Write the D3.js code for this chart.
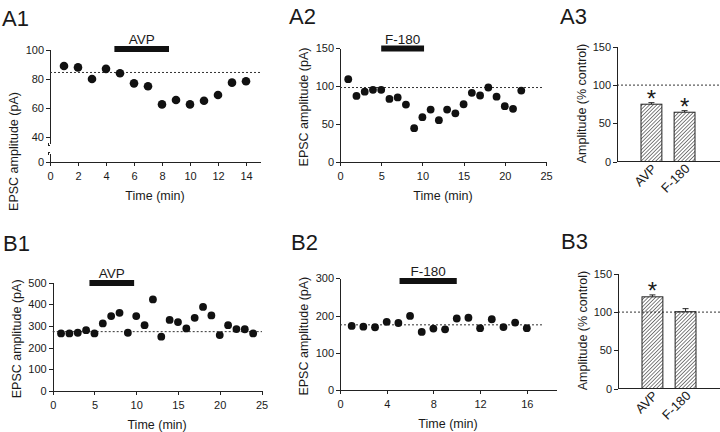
<!DOCTYPE html>
<html>
<head>
<meta charset="utf-8">
<script src="https://cdn.jsdelivr.net/npm/d3@7"></script>
<style>
  body { margin: 0; background: #fff; }
  svg { display: block; font-family: "Liberation Sans", Arial, sans-serif; }
  .axis path, .axis line { stroke: #222; stroke-width: 1; shape-rendering: crispEdges; }
  .axis text { fill: #1a1a1a; font-size: 11px; }
  .title { fill: #1a1a1a; font-size: 12.5px; }
  .panel { fill: #1a1a1a; font-size: 22px; }
</style>
</head>
<body>
<div id="chart"></div>
<script>
const width = 720,
  height = 432;

// A1: AVP, EPSC amplitude (pA) vs time (min)
const a1Time = [1, 2, 3, 4, 5, 6, 7, 8, 9, 10, 11, 12, 13, 14];
const a1Amp = [89, 88, 80, 87, 84, 77, 75, 62.5, 65.5, 62.5, 65, 69, 77.5, 78.5];
const a1Base = 84.5;
const a1Drug = [4.6, 8.5];
const a1XTicks = [0, 2, 4, 6, 8, 10, 12, 14];
const a1YTicks = [0, 40, 60, 80, 100];

// A2: F-180
const a2Time = [1, 2, 3, 4, 5, 6, 7, 8, 9, 10, 11, 12, 13, 14, 15, 16, 17, 18, 19, 20, 21, 22];
const a2Amp = [109, 87, 92.5, 95, 95, 83, 85, 75.5, 44.5, 59, 69, 55, 69, 64, 76, 91, 87.5, 98, 86, 73.5, 70, 94];
const a2Base = 98;
const a2Drug = [5, 10.2];
const a2XTicks = [0, 5, 10, 15, 20, 25];
const a2YTicks = [0, 50, 100, 150];

// A3: % control
const a3Cats = ["AVP", "F-180"];
const a3Vals = [75, 64.5];
const a3Err = [2, 2];
const a3Star = [true, true];

// B1: AVP
const b1Time = [1, 2, 3, 4, 5, 6, 7, 8, 9, 10, 11, 12, 13, 14, 15, 16, 17, 18, 19, 20, 21, 22, 23, 24];
const b1Amp = [266, 266, 269, 281, 266, 312, 346, 361, 269, 346, 304, 423, 251, 328, 318, 289, 338, 388, 349, 258, 304, 286, 285, 266];
const b1Base = 274;
const b1Drug = [4.4, 9.75];
const b1XTicks = [0, 5, 10, 15, 20, 25];
const b1YTicks = [0, 100, 200, 300, 400, 500];

// B2: F-180
const b2Time = [1, 2, 3, 4, 5, 6, 7, 8, 9, 10, 11, 12, 13, 14, 15, 16];
const b2Amp = [172, 170, 168.5, 183, 180, 199, 156, 165, 163, 192, 194, 166, 190, 169, 181, 166];
const b2Base = 175;
const b2Drug = [5.1, 10];
const b2XTicks = [0, 4, 8, 12, 16];
const b2YTicks = [0, 100, 200, 300];

// B3: % control
const b3Cats = ["AVP", "F-180"];
const b3Vals = [120, 100.5];
const b3Err = [2.5, 4];
const b3Star = [true, false];

const svg = d3
  .select("#chart")
  .append("svg")
  .attr("width", width)
  .attr("height", height);

// hatching for the summary bars
svg
  .append("defs")
  .append("pattern")
  .attr("id", "hatch")
  .attr("patternUnits", "userSpaceOnUse")
  .attr("width", 2.6)
  .attr("height", 2.6)
  .attr("patternTransform", "rotate(45)")
  .append("line")
  .attr("x1", 0)
  .attr("y1", 0)
  .attr("x2", 0)
  .attr("y2", 2.6)
  .attr("stroke", "#1a1a1a")
  .attr("stroke-width", 1.1);

function panelLabel(text, x, y) {
  svg.append("text").attr("class", "panel").attr("x", x).attr("y", y).text(text);
}

function yTitle(text, x, y) {
  svg
    .append("text")
    .attr("class", "title")
    .attr("text-anchor", "middle")
    .attr("transform", `translate(${x},${y}) rotate(-90)`)
    .attr("dy", "0.35em")
    .text(text);
}

function timePanel(o) {
  const x = d3.scaleLinear().domain(o.xDomain).range(o.xRange);
  const y = d3.scaleLinear().domain(o.yDomain).range(o.yRange);

  // x axis
  svg
    .append("g")
    .attr("class", "axis")
    .attr("transform", `translate(0,${o.yRange[0]})`)
    .call(d3.axisBottom(x).tickValues(o.xTicks).tickSize(4).tickPadding(6).tickSizeOuter(0));

  // y axis
  const gy = svg
    .append("g")
    .attr("class", "axis")
    .attr("transform", `translate(${o.xRange[0]},0)`)
    .call(d3.axisLeft(y).tickValues(o.yTicks).tickSize(4).tickPadding(2).tickSizeOuter(0));

  if (o.broken) {
    // axis break between 0 and 40
    gy.select(".domain").remove();
    const top = y(o.yDomain[o.yDomain.length - 1]);
    const bottom = y(0);
    const gapTop = y(40) + 7,
      gapBottom = bottom - 8;
    gy.append("line").attr("x1", 0).attr("x2", 0).attr("y1", top).attr("y2", gapTop);
    gy.append("line").attr("x1", 0).attr("x2", 0).attr("y1", gapBottom).attr("y2", bottom);
    gy.append("path")
      .attr("d", `M-1.5,${gapTop - 1} Q-2,${gapTop + 2} 0,${gapTop + 2}`)
      .attr("fill", "none").attr("stroke", "#222");
    gy.append("path")
      .attr("d", `M0,${gapBottom - 2} Q-2,${gapBottom - 2} -1.5,${gapBottom + 1}`)
      .attr("fill", "none").attr("stroke", "#222");
  }

  // baseline (control mean)
  svg
    .append("line")
    .attr("x1", o.xRange[0])
    .attr("x2", o.baseEnd)
    .attr("y1", y(o.base))
    .attr("y2", y(o.base))
    .attr("stroke", "#333")
    .attr("stroke-dasharray", "2,2");

  // drug application bar
  svg
    .append("rect")
    .attr("x", x(o.drug[0]))
    .attr("y", o.drugY - 3)
    .attr("width", x(o.drug[1]) - x(o.drug[0]))
    .attr("height", 6)
    .attr("fill", "#111");
  svg
    .append("text")
    .attr("class", "title")
    .style("font-size", "13.5px")
    .attr("text-anchor", "middle")
    .attr("x", (x(o.drug[0]) + x(o.drug[1])) / 2)
    .attr("y", o.drugY - 5)
    .text(o.drugName);

  svg
    .selectAll(null)
    .data(o.time)
    .enter()
    .append("circle")
    .attr("cx", (d) => x(d))
    .attr("cy", (d, i) => y(o.amp[i]))
    .attr("r", o.r)
    .attr("fill", "#111");

  svg
    .append("text")
    .attr("class", "title")
    .attr("text-anchor", "middle")
    .attr("x", (o.xRange[0] + o.xRange[1]) / 2)
    .attr("y", o.yRange[0] + 38)
    .text("Time (min)");

  yTitle("EPSC amplitude (pA)", o.xRange[0] - 36, (o.yRange[0] + o.yRange[1]) / 2 + 2);
}

function barPanel(o) {
  const x = d3.scaleBand().domain(o.cats).range([o.x0 + 24, o.x0 + 78]).paddingInner(0.37);
  const y = d3.scaleLinear().domain([0, 150]).range([o.y0, o.y0 - 114.6]);

  svg
    .append("line")
    .attr("x1", o.x0)
    .attr("x2", width)
    .attr("y1", y(100))
    .attr("y2", y(100))
    .attr("stroke", "#333")
    .attr("stroke-dasharray", "2,2");

  svg
    .selectAll(null)
    .data(o.cats)
    .enter()
    .append("line")
    .attr("x1", (d) => x(d) + x.bandwidth() / 2)
    .attr("x2", (d) => x(d) + x.bandwidth() / 2)
    .attr("y1", (d, i) => y(o.vals[i]))
    .attr("y2", (d, i) => y(o.vals[i] + o.err[i]))
    .attr("stroke", "#222");
  svg
    .selectAll(null)
    .data(o.cats)
    .enter()
    .append("line")
    .attr("x1", (d) => x(d) + x.bandwidth() / 2 - 3)
    .attr("x2", (d) => x(d) + x.bandwidth() / 2 + 3)
    .attr("y1", (d, i) => y(o.vals[i] + o.err[i]))
    .attr("y2", (d, i) => y(o.vals[i] + o.err[i]))
    .attr("stroke", "#222");

  svg
    .selectAll(null)
    .data(o.cats)
    .enter()
    .append("rect")
    .attr("x", (d) => x(d))
    .attr("y", (d, i) => y(o.vals[i]))
    .attr("width", x.bandwidth())
    .attr("height", (d, i) => y(0) - y(o.vals[i]))
    .attr("fill", "url(#hatch)")
    .attr("stroke", "#222")
    .attr("stroke-width", 1);

  // significance marks
  svg
    .selectAll(null)
    .data(o.cats.map((d, i) => ({ cat: d, top: o.vals[i] + o.err[i], star: o.star[i] })).filter((d) => d.star))
    .enter()
    .append("text")
    .attr("text-anchor", "middle")
    .attr("x", (d) => x(d.cat) + x.bandwidth() / 2)
    .attr("y", (d) => y(d.top) + 4)
    .style("font-size", "24px")
    .attr("fill", "#1a1a1a")
    .text("*");

  svg
    .append("line")
    .attr("x1", o.x0)
    .attr("x2", width)
    .attr("y1", o.y0)
    .attr("y2", o.y0)
    .attr("stroke", "#222");

  svg
    .append("g")
    .attr("class", "axis")
    .attr("transform", `translate(${o.x0},0)`)
    .call(d3.axisLeft(y).tickValues([0, 50, 100, 150]).tickSize(4).tickPadding(2).tickSizeOuter(0));

  svg
    .selectAll(null)
    .data(o.cats)
    .enter()
    .append("text")
    .attr("class", "title")
    .style("font-size", "13px")
    .attr("text-anchor", "end")
    .attr("transform", (d) => `translate(${x(d) + x.bandwidth() / 2 + 6},${o.y0 + 8}) rotate(-45)`)
    .text((d) => d);

  yTitle("Amplitude (% control)", o.x0 - 35, o.y0 - 58);
}

// row A
panelLabel("A1", 2, 26);
timePanel({
  time: a1Time, amp: a1Amp, base: a1Base, drug: a1Drug, drugName: "AVP",
  xDomain: [0, 15], xRange: [50, 260], xTicks: a1XTicks,
  yDomain: [0, 40, 100], yRange: [162, 137, 50], yTicks: a1YTicks,
  broken: true, baseEnd: 260, drugY: 49, r: 4.3
});

panelLabel("A2", 289, 24);
timePanel({
  time: a2Time, amp: a2Amp, base: a2Base, drug: a2Drug, drugName: "F-180",
  xDomain: [0, 25], xRange: [340, 546], xTicks: a2XTicks,
  yDomain: [0, 150], yRange: [162, 48], yTicks: a2YTicks,
  baseEnd: 542, drugY: 48.5, r: 3.9
});

panelLabel("A3", 560, 24);
barPanel({ cats: a3Cats, vals: a3Vals, err: a3Err, star: a3Star, x0: 617, y0: 161.5 });

// row B
panelLabel("B1", 3, 251);
timePanel({
  time: b1Time, amp: b1Amp, base: b1Base, drug: b1Drug, drugName: "AVP",
  xDomain: [0, 25], xRange: [52.7, 261.5], xTicks: b1XTicks,
  yDomain: [0, 500], yRange: [391, 282.7], yTicks: b1YTicks,
  baseEnd: 262, drugY: 283, r: 3.9
});

panelLabel("B2", 291, 250);
timePanel({
  time: b2Time, amp: b2Amp, base: b2Base, drug: b2Drug, drugName: "F-180",
  xDomain: [0, 18.5], xRange: [340, 556], xTicks: b2XTicks,
  yDomain: [0, 300], yRange: [390, 278.3], yTicks: b2YTicks,
  baseEnd: 542, drugY: 281, r: 3.9
});

panelLabel("B3", 561, 249);
barPanel({ cats: b3Cats, vals: b3Vals, err: b3Err, star: b3Star, x0: 618, y0: 388.5 });
</script>
</body>
</html>
